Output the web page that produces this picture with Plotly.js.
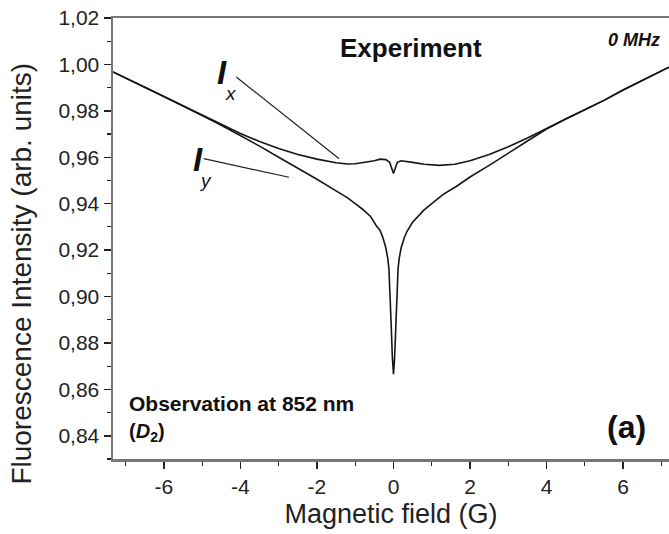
<!DOCTYPE html>
<html>
<head>
<meta charset="utf-8">
<script src="https://cdn.plot.ly/plotly-3.0.1.min.js"></script>
<style>html,body{margin:0;padding:0;background:#fff;}#chart{width:669px;height:534px;}</style>
</head>
<body>
<div id="chart"></div>
<script>
// Magnetic field (G) and fluorescence intensity for I_x
const fieldX = [-7.33,-7,-6.5,-6,-5.5,-5,-4.5,-4.2,-4,-3.5,-3,-2.5,-2,-1.5,-1.2,-1,-0.7,-0.5,-0.35,-0.2,-0.1,-0.05,0,0.05,0.1,0.2,0.35,0.5,0.8,1.2,1.6,2.0,2.5,3.0,3.5,4.0,4.2,4.5,5.0,5.5,6.0,6.5,7.0,7.2];
const intensityX = [0.9968,0.9943,0.9902,0.9862,0.9822,0.9780,0.9740,0.9715,0.9702,0.9668,0.9638,0.9612,0.9592,0.9576,0.9571,0.9572,0.9578,0.9585,0.9592,0.9590,0.9578,0.9555,0.9530,0.9555,0.9578,0.9585,0.9583,0.9578,0.9570,0.9565,0.9570,0.9585,0.9612,0.9645,0.9683,0.9722,0.9740,0.9765,0.9805,0.9845,0.9890,0.9930,0.9972,0.9988];
// Magnetic field (G) and fluorescence intensity for I_y
const fieldY = [-7.33,-7,-6.5,-6,-5.5,-5,-4.5,-4.2,-4,-3.5,-3,-2.5,-2,-1.5,-1.2,-1,-0.8,-0.6,-0.45,-0.35,-0.28,-0.2,-0.15,-0.12,-0.09,-0.06,-0.03,0,0.03,0.06,0.09,0.12,0.15,0.2,0.28,0.35,0.5,0.78,1.0,1.3,1.65,2.0,2.5,2.96,3.5,4.0,4.2,4.5,5.0,5.5,6.0,6.5,7.0,7.2];
const intensityY = [0.9968,0.9943,0.9902,0.9862,0.9822,0.9780,0.9738,0.9712,0.9695,0.9648,0.9600,0.9553,0.9505,0.9455,0.9425,0.9400,0.9375,0.9345,0.9305,0.9285,0.9255,0.9210,0.9165,0.9120,0.9030,0.8880,0.8740,0.8665,0.8740,0.8880,0.9030,0.9120,0.9165,0.9210,0.9252,0.9280,0.9320,0.9370,0.9400,0.9440,0.9475,0.9515,0.9565,0.9615,0.9670,0.9722,0.9740,0.9765,0.9805,0.9845,0.9890,0.9930,0.9972,0.9988];
// Tick values and labels
const xTickVals = [-6,-4,-2,0,2,4,6];
const xTickText = ['-6','-4','-2','0','2','4','6'];
const yTickVals = [0.84,0.86,0.88,0.90,0.92,0.94,0.96,0.98,1.00,1.02];
const yTickText = ['0,84','0,86','0,88','0,90','0,92','0,94','0,96','0,98','1,00','1,02'];

const lineStyle = {color:'#161616', width:1.6};
const traces = [
  {x: fieldX, y: intensityX, mode:'lines', line: lineStyle, name:'I_x', hoverinfo:'skip'},
  {x: fieldY, y: intensityY, mode:'lines', line: lineStyle, name:'I_y', hoverinfo:'skip'}
];

const F = 'Liberation Sans, Arial, sans-serif';
const axisCommon = {
  showline:true, linecolor:'#777', linewidth:2.5,
  ticks:'outside', ticklen:7, tickwidth:1.5, tickcolor:'#222',
  showgrid:false, zeroline:false,
  tickfont:{family:F, size:21, color:'#222'}
};

function ann(x, y, text, size, extra) {
  return Object.assign({xref:'paper', yref:'paper', x:x, y:y, text:text, showarrow:false,
    xanchor:'center', yanchor:'middle', font:{family:F, size:size, color:'#111'}}, extra || {});
}

const layout = {
  width:669, height:534,
  margin:{l:113, r:0, t:18, b:75},
  paper_bgcolor:'#fff', plot_bgcolor:'#fff',
  showlegend:false,
  xaxis: Object.assign({}, axisCommon, {
    range:[-7.33, 7.2], tickmode:'array', tickvals:xTickVals, ticktext:xTickText, mirror:true,
    minor:{dtick:1, tick0:0, ticks:'outside', ticklen:4, tickwidth:1.2, tickcolor:'#222'},
    title:{text:'Magnetic field (G)', font:{family:F, size:27, color:'#222'}, standoff:8}
  }),
  yaxis: Object.assign({}, axisCommon, {
    range:[0.83, 1.02], tickmode:'array', tickvals:yTickVals, ticktext:yTickText,
    minor:{dtick:0.01, tick0:0.83, ticks:'outside', ticklen:4, tickwidth:1.2, tickcolor:'#222'}
  }),
  shapes:[
    {type:'line', xref:'x', yref:'y', x0:-4.11, y0:0.9946, x1:-1.42, y1:0.9594, line:{color:'#222', width:1.2}},
    {type:'line', xref:'x', yref:'y', x0:-4.96, y0:0.9594, x1:-2.73, y1:0.9514, line:{color:'#222', width:1.2}}
  ],
  annotations:[
    ann(-0.164, 0.42, 'Fluorescence Intensity (arb. units)', 28, {textangle:-90, font:{family:F, size:28, color:'#222'}}),
    ann(0.536, 0.932, '<b>Experiment</b>', 26),
    ann(0.987, 0.950, '<b><i>0 MHz</i></b>', 18, {xanchor:'right'}),
    ann(0.196, 0.876, '<b><i>I</i></b>', 33),
    ann(0.212, 0.828, '<i>x</i>', 19),
    ann(0.153, 0.679, '<b><i>I</i></b>', 33),
    ann(0.166, 0.631, '<i>y</i>', 19),
    ann(0.025, 0.125, '<b>Observation at 852 nm</b>', 21, {xanchor:'left'}),
    ann(0.025, 0.059, '<b>(<i>D</i><sub>2</sub>)</b>', 20, {xanchor:'left'}),
    ann(0.923, 0.073, '<b>(a)</b>', 32)
  ]
};

Plotly.newPlot('chart', traces, layout, {displayModeBar:false, staticPlot:true});
</script>
</body>
</html>
